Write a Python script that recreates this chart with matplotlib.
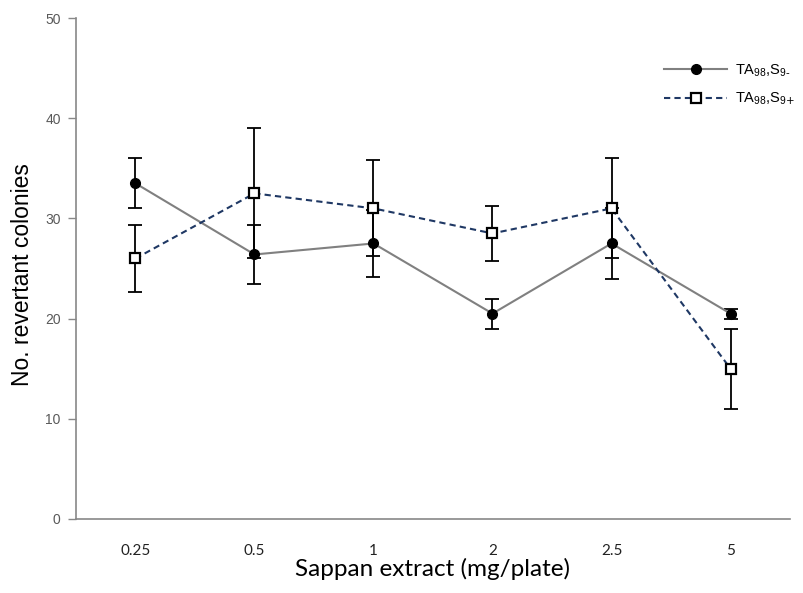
import matplotlib
matplotlib.use("Agg")
import matplotlib.pyplot as plt
import numpy as np

categories = ["0.25", "0.5", "1", "2", "2.5", "5"]
s9_minus = [33.5, 26.4, 27.5, 20.5, 27.5, 20.5]
s9_minus_err = [2.5, 2.9, 3.3, 1.5, 3.5, 0.5]
s9_plus = [26.0, 32.5, 31.0, 28.5, 31.0, 15.0]
s9_plus_err = [3.3, 6.5, 4.8, 2.75, 5.0, 4.0]
yticks = [0, 10, 20, 30, 40, 50]

fig = plt.figure(figsize=(8.04, 5.93), dpi=100)
ax = fig.add_axes([0.0945, 0.1248, 0.8881, 0.8448])
x = np.arange(len(categories))

ax.errorbar(x, s9_minus, yerr=s9_minus_err, fmt="none",
            ecolor="black", elinewidth=1.3, capsize=5, capthick=1.3, zorder=2)
ax.errorbar(x, s9_plus, yerr=s9_plus_err, fmt="none",
            ecolor="black", elinewidth=1.3, capsize=5, capthick=1.3, zorder=2)
l1, = ax.plot(x, s9_minus, color="#808080", lw=1.5,
              marker="o", ms=7, mfc="black", mec="black", zorder=3,
              label=r"TA$\mathregular{_{98}}$,S$\mathregular{_{9\text{-}}}$")
l2, = ax.plot(x, s9_plus, color="#1F3864", lw=1.5, ls=(0, (3, 2)),
              marker="s", ms=6.5, mfc="white", mec="black", mew=1.6, zorder=4,
              label=r"TA$\mathregular{_{98}}$,S$\mathregular{_{9\text{+}}}$")

ax.set_xlim(-0.5, len(categories) - 0.5)
ax.set_ylim(0, 50)
ax.set_xticks(x)
ax.set_xticklabels(categories, family="Lato")
ax.tick_params(axis="x", length=0, pad=18, labelsize=11, labelcolor="#222222")
ax.set_yticks(yticks)
for lab in ax.get_yticklabels():
    lab.set_family("Liberation Sans")
ax.tick_params(axis="y", length=6, color="#888888", width=1, labelsize=10,
               labelcolor="#595959", direction="out", pad=5)
for s in ["top", "right"]:
    ax.spines[s].set_visible(False)
for s in ["left", "bottom"]:
    ax.spines[s].set_color("#888888")
    ax.spines[s].set_linewidth(1.2)

ax.set_xlabel("Sappan extract (mg/plate)", fontsize=17.5, family="Lato", labelpad=0)
ax.set_ylabel("No. revertant colonies", fontsize=16.5, family="Liberation Sans")
ax.yaxis.set_label_coords(-0.059, 0.488)

leg = fig.legend(handles=[l1, l2], loc="upper left", bbox_to_anchor=(657 / 804, 1 - 55 / 593),
                 frameon=False, borderpad=0, handlelength=4.3, labelspacing=0.85,
                 handletextpad=0.55, prop={"family": "Liberation Sans", "size": 10.5})

fig.savefig("out.png", dpi=100)
